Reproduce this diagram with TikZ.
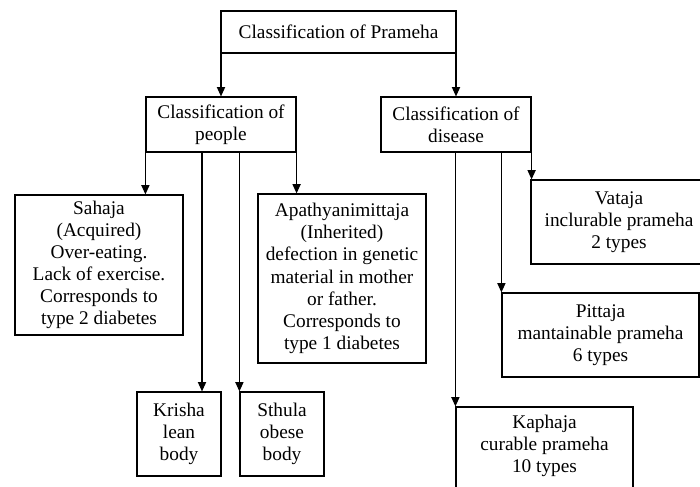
\documentclass[tikz,border=0pt]{standalone}
\usepackage{fontspec}
\setmainfont{Liberation Serif}
\usepackage{tikz}
\usetikzlibrary{arrows.meta}

\begin{document}
\begin{tikzpicture}[x=0.03cm, y=-0.03cm, -{Triangle[length=8pt,width=7pt]}, line width=1pt,
                box/.style={rectangle,draw,-,align=center,inner sep=0pt,
                  font=\fontsize{16.5}{18.9}\selectfont}]

  \useasboundingbox (0,0) rectangle (700,487);
  \clip (0,0) rectangle (700,487);

  \node[box, minimum width=7.05cm, minimum height=1.26cm] (top) at (338.5,32) {Classification of Prameha};
  \node[box, minimum width=4.5cm, minimum height=1.65cm] (people) at (221,124.5) {Classification of\\people};
  \node[box, minimum width=4.5cm, minimum height=1.65cm] (disease) at (456,124.5) {Classification of\\disease};

  \node[box, minimum width=5.04cm, minimum height=4.2cm] (sahaja) at (99,265)
    {Sahaja\\(Acquired)\\Over-eating.\\Lack of exercise.\\Corresponds to\\type 2 diabetes};
  \node[box, minimum width=5.04cm, minimum height=5.07cm] (apathy) at (342,278.5)
    {Apathyanimittaja\\(Inherited)\\defection in genetic\\material in mother\\or father.\\Corresponds to\\type 1 diabetes};
  \node[box, minimum width=2.52cm, minimum height=2.52cm] (krisha) at (179,434) {Krisha\\lean\\body};
  \node[box, minimum width=2.52cm, minimum height=2.52cm] (sthula) at (282,434) {Sthula\\obese\\body};

  \node[box, minimum width=5.28cm, minimum height=2.52cm] (vataja) at (619,222) {Vataja\\inclurable prameha\\2 types};
  \node[box, minimum width=5.91cm, minimum height=2.52cm] (pittaja) at (600.5,335) {Pittaja\\mantainable prameha\\6 types};
  \node[box, minimum width=5.31cm, minimum height=2.88cm] (kaphaja) at (544.5,455) {Kaphaja\\curable prameha\\10 types\\\mbox{}};

  \coordinate (lean) at (202,152);

  \draw (people.north |- top.south) -- (people.north);
  \draw (disease.north |- top.south) -- (disease.north);

  \draw (people.south west) -- (people.south west |- sahaja.north);
  \draw (lean) -- (lean |- krisha.north);
  \draw (sthula.north west |- people.south) -- (sthula.north west);
  \draw (people.south east) -- (people.south east |- apathy.north);

  \draw (kaphaja.north west |- disease.south) -- (kaphaja.north west);
  \draw (pittaja.north west |- disease.south) -- (pittaja.north west);
  \draw (disease.south east) -- (disease.south east |- vataja.north);
\end{tikzpicture}
\end{document}
